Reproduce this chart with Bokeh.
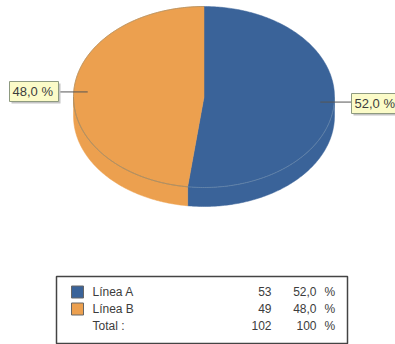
import numpy as np
from bokeh.plotting import figure
from bokeh.embed import file_html
from bokeh.resources import INLINE
from bokeh.core.properties import value

categories = ["Línea A", "Línea B"]
counts = [53, 49]
percents = [52.0, 48.0]
percent_labels = ["52,0 %", "48,0 %"]
count_total = 102
percent_total = "100"
colors = ["#3A6399", "#ECA04F"]
rim_colors = ["#6283A9", "#B08F62"]
FONT = "Liberation Sans"
TXT = "#3c3c3c"

CX, CY, RX, RY, DEPTH = 203.5, 96.5, 130.5, 90.5, 19.0


def pt(theta, r=1.0, dy=0.0):
    return CX + RX * r * np.sin(theta), CY - RY * r * np.cos(theta) + dy


p = figure(width=395, height=344, x_range=(0, 395), y_range=(344, 0),
           output_backend="svg", toolbar_location=None, min_border=0,
           outline_line_color=None, background_fill_color="white",
           border_fill_color="white")
p.axis.visible = False
p.grid.visible = False

edges = np.radians(np.concatenate([[0], np.cumsum(percents) * 3.6]))

# side wall on the front half of the disc
for i in range(2):
    a0, a1 = max(edges[i], np.pi / 2), min(edges[i + 1], 1.5 * np.pi)
    t = np.linspace(a0, a1, 120)
    xs, ys = pt(t)
    xb, yb = pt(t, dy=DEPTH)
    p.patch(np.concatenate([xs, xb[::-1]]), np.concatenate([ys, yb[::-1]]),
            fill_color=colors[i], line_color=colors[i], line_width=0.5)

# top slices
for i in range(2):
    t = np.linspace(edges[i], edges[i + 1], 240)
    xs, ys = pt(t)
    p.patch(np.concatenate([[CX], xs]), np.concatenate([[CY], ys]),
            fill_color=colors[i], line_color=colors[i], line_width=0.5)

# rim lines
for i in range(2):
    t = np.linspace(max(edges[i], np.pi / 2), min(edges[i + 1], 1.5 * np.pi), 120)
    xs, ys = pt(t)
    p.line(xs, ys, line_color=rim_colors[i], line_width=1)
t = np.linspace(edges[1], edges[2], 200)
xs, ys = pt(t)
p.line(xs, ys, line_color="#B08F62", line_width=0.8)

# callouts
mid = (edges[:-1] + edges[1:]) / 2
boxes = [(351, 397, 93, 113), (9, 58, 81, 101)]
for i, (x0, x1, y0, y1) in enumerate(boxes):
    ax, ay = pt(mid[i], r=0.893)
    ex = x0 if i == 0 else x1
    p.line([ax, ex], [ay, ay], line_color="#555555", line_width=1)
    p.quad(left=x0 + 2, right=x1 + 2, top=y0 + 2, bottom=y1 + 2,
           fill_color="#c4c4c4", line_color=None)
    p.quad(left=x0, right=x1, top=y0, bottom=y1, fill_color="#FBFBC8",
           line_color="#8E9A80", line_width=1)
    p.text([x0 + 3], [(y0 + y1) / 2], text=[percent_labels[i]], text_font=value(FONT),
           text_font_size="13px", text_color=TXT, text_align="left", text_baseline="middle")

# legend table
p.quad(left=56, right=347, top=276, bottom=343, fill_color="white",
       line_color="#444444", line_width=1.5)
rows_y = [291, 308, 325]
for i in range(2):
    p.quad(left=71, right=83, top=rows_y[i] - 5.5, bottom=rows_y[i] + 6.5,
           fill_color=colors[i], line_color="#666666", line_width=1)
names = categories + ["Total :"]
nums = [str(c) for c in counts] + [str(count_total)]
pcts = [f"{v:.1f}".replace(".", ",") for v in percents] + [percent_total]
kw = dict(text_font=value(FONT), text_font_size="12px", text_color=TXT, text_baseline="middle")
p.text([92] * 3, rows_y, text=names, text_align="left", **kw)
p.text([271] * 3, rows_y, text=nums, text_align="right", **kw)
p.text([316] * 3, rows_y, text=pcts, text_align="right", **kw)
p.text([324] * 3, rows_y, text=["%"] * 3, text_align="left", **kw)

open("out.html", "w").write(file_html(p, INLINE))
